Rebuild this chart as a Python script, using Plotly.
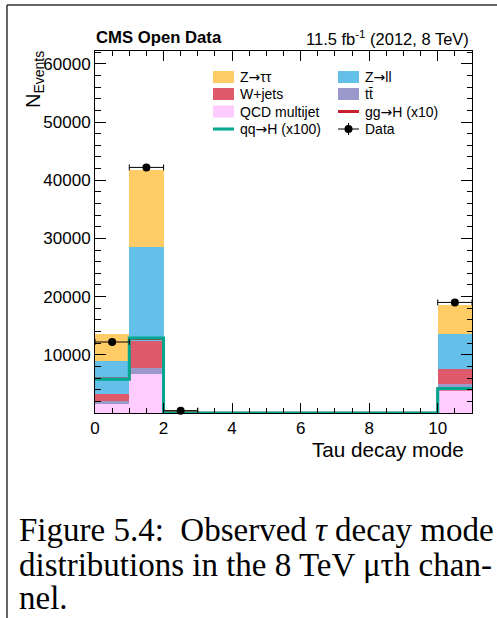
import math
import plotly.graph_objects as go

# Tau decay mode bins (edges 0..11, one bin per decay mode value)
bin_edges = list(range(0, 12))
bin_centers = [e + 0.5 for e in bin_edges[:-1]]

# Expected yields per bin (stacked backgrounds)
qcd_multijet = [1700, 6700, 50, 0, 0, 0, 0, 0, 0, 0, 4300]
ttbar = [300, 1000, 20, 0, 0, 0, 0, 0, 0, 0, 600]
w_jets = [1200, 4600, 60, 0, 0, 0, 0, 0, 0, 0, 2600]
z_ll = [5700, 16200, 100, 0, 0, 0, 0, 0, 0, 0, 6000]
z_tautau = [4600, 13300, 150, 0, 0, 0, 0, 0, 0, 0, 5000]

# Signal shapes (scaled)
ggH_x10 = [5900, 12750, 100, 0, 0, 0, 0, 0, 0, 0, 4100]
qqH_x100 = [5800, 12900, 0, 0, 0, 0, 0, 0, 0, 0, 4200]

# Observed events
data_counts = [12200, 42200, 400, 0, 0, 0, 0, 0, 0, 0, 19000]

# Axis settings
x_range = [0, 11]
y_range = [0, 62200]
y_tickvals = [10000, 20000, 30000, 40000, 50000, 60000]
x_tickvals = [0, 2, 4, 6, 8, 10]

colors = {
    "ztt": "#FFCC66",
    "zll": "#64C0E8",
    "wj": "#DE5A6A",
    "tt": "#9B98CC",
    "qcd": "#FFCCFF",
    "ggh": "#C8202E",
    "qqh": "#00A88F",
}

# Page geometry (pixels)
W, H = 497, 618
L, R, T, B = 95, 472, 51, 413
PW, PH = R - L, B - T


def px(xp):
    return (xp - L) / PW


def py(yp):
    return (B - yp) / PH


fig = go.Figure()

stack = [
    ("QCD multijet", qcd_multijet, colors["qcd"]),
    ("tt", ttbar, colors["tt"]),
    ("W+jets", w_jets, colors["wj"]),
    ("Z->ll", z_ll, colors["zll"]),
    ("Z->tautau", z_tautau, colors["ztt"]),
]
for name, vals, col in stack:
    fig.add_trace(go.Bar(
        x=bin_centers, y=vals, width=1.0, name=name,
        marker=dict(color=col, line=dict(width=0)),
        showlegend=False, hoverinfo="skip",
    ))


def step_xy(vals):
    return bin_edges, list(vals) + [vals[-1]]


sx, sy = step_xy(ggH_x10)
fig.add_trace(go.Scatter(x=sx, y=sy, mode="lines", line=dict(color=colors["ggh"], width=2.5, shape="hv"),
                         showlegend=False, hoverinfo="skip"))
sx, sy = step_xy(qqH_x100)
fig.add_trace(go.Scatter(x=sx, y=sy, mode="lines", line=dict(color=colors["qqh"], width=3, shape="hv"),
                         showlegend=False, hoverinfo="skip"))

dx = [c for c, n in zip(bin_centers, data_counts) if n > 0]
dy = [n for n in data_counts if n > 0]
fig.add_trace(go.Scatter(
    x=dx, y=dy, mode="markers",
    marker=dict(color="black", size=8),
    error_x=dict(type="constant", value=0.5, color="black", thickness=1, width=3),
    error_y=dict(type="data", array=[math.sqrt(v) for v in dy], color="black", thickness=1, width=0),
    showlegend=False, hoverinfo="skip", cliponaxis=False,
))

tick_font = dict(family="Liberation Sans, Arial, sans-serif", size=17, color="black")

fig.update_layout(
    width=W, height=H,
    margin=dict(l=L, r=W - R, t=T, b=H - B, pad=0),
    paper_bgcolor="white", plot_bgcolor="white",
    barmode="stack", bargap=0,
    showlegend=False,
    font=tick_font,
)
fig.update_xaxes(
    range=x_range, tickvals=x_tickvals, ticktext=[str(v) for v in x_tickvals],
    ticks="inside", ticklen=10, tickwidth=1, tickcolor="black",
    minor=dict(ticks="inside", dtick=0.5, tick0=0, ticklen=5, tickwidth=1, tickcolor="black"),
    showline=True, linecolor="black", linewidth=1, mirror="allticks",
    showgrid=False, zeroline=False, tickfont=tick_font,
)
fig.update_yaxes(
    range=y_range, tickvals=y_tickvals, ticktext=[str(v) for v in y_tickvals],
    ticks="inside", ticklen=11, tickwidth=1, tickcolor="black",
    minor=dict(ticks="inside", dtick=2000, tick0=0, ticklen=5.5, tickwidth=1, tickcolor="black"),
    showline=True, linecolor="black", linewidth=1, mirror="allticks",
    showgrid=False, zeroline=False, tickfont=tick_font,
)

ann = []
sans = "Liberation Sans, Arial, sans-serif"
serif = "Liberation Serif, Times New Roman, serif"
ARROW = "<span style='font-family:DejaVu Sans'>→</span>"

ann.append(dict(text="<b>CMS Open Data</b>", x=px(94), y=py(38), xanchor="left", yanchor="middle",
                font=dict(family=sans, size=16.7, color="black")))
ann.append(dict(text="11.5 fb<sup>-1</sup> (2012, 8 TeV)", x=px(471), y=py(38), xanchor="right", yanchor="middle",
                font=dict(family=sans, size=16.5, color="black")))
ann.append(dict(text="N<sub>Events</sub>", x=px(34), y=py(79), xanchor="center", yanchor="middle",
                textangle=-90, font=dict(family=sans, size=20, color="black")))
ann.append(dict(text="Tau decay mode", x=px(466), y=py(450), xanchor="right", yanchor="middle",
                font=dict(family=sans, size=20.7, color="black")))

# Legend, two columns
col_x = [213, 338]
row_y = [77, 94, 111.5, 129]
leg_w = 21
leg_items = [
    (0, 0, "box", colors["ztt"], "Z" + ARROW + "ττ"),
    (1, 0, "box", colors["zll"], "Z" + ARROW + "ll"),
    (0, 1, "box", colors["wj"], "W+jets"),
    (1, 1, "box", colors["tt"], "tt\u0304"),
    (0, 2, "box", colors["qcd"], "QCD multijet"),
    (1, 2, "line", colors["ggh"], "gg" + ARROW + "H (x10)"),
    (0, 3, "line", colors["qqh"], "qq" + ARROW + "H (x100)"),
    (1, 3, "data", "black", "Data"),
]
shapes = []
for c, r, kind, col, label in leg_items:
    x0 = col_x[c]
    yc = row_y[r]
    if kind == "box":
        shapes.append(dict(type="rect", xref="paper", yref="paper", x0=px(x0), x1=px(x0 + leg_w),
                           y0=py(yc + 6), y1=py(yc - 6), fillcolor=col, line=dict(width=0)))
    elif kind == "line":
        shapes.append(dict(type="line", xref="paper", yref="paper", x0=px(x0), x1=px(x0 + leg_w),
                           y0=py(yc), y1=py(yc), line=dict(color=col, width=3)))
    else:
        shapes.append(dict(type="line", xref="paper", yref="paper", x0=px(x0), x1=px(x0 + leg_w),
                           y0=py(yc), y1=py(yc), line=dict(color="black", width=1)))
        shapes.append(dict(type="line", xref="paper", yref="paper", x0=px(x0 + leg_w / 2), x1=px(x0 + leg_w / 2),
                           y0=py(yc - 6), y1=py(yc + 6), line=dict(color="black", width=1)))
        shapes.append(dict(type="circle", xref="paper", yref="paper",
                           x0=px(x0 + leg_w / 2 - 4), x1=px(x0 + leg_w / 2 + 4),
                           y0=py(yc + 4), y1=py(yc - 4), fillcolor="black", line=dict(width=0)))
    ann.append(dict(text=label, x=px(x0 + leg_w + 4), y=py(yc), xanchor="left", yanchor="middle",
                    font=dict(family=sans, size=14, color="black")))

# Page frame (left and top rules)
shapes.append(dict(type="line", xref="paper", yref="paper", x0=px(7), x1=px(7), y0=py(5), y1=py(620),
                   line=dict(color="#333333", width=1.5)))
shapes.append(dict(type="line", xref="paper", yref="paper", x0=px(7), x1=px(500), y0=py(5), y1=py(5),
                   line=dict(color="#333333", width=1.5)))

# Caption
caption_lines = [
    "Figure 5.4:  Observed <i>τ</i> decay mode",
    "distributions in the 8 TeV μτh chan-",
    "nel.",
]
cap_y = [530, 565, 598]
for line, yc in zip(caption_lines, cap_y):
    ann.append(dict(text=line, x=px(17), y=py(yc), xanchor="left", yanchor="middle",
                    font=dict(family=serif, size=33, color="black")))

for a in ann:
    a.update(xref="paper", yref="paper", showarrow=False)

fig.update_layout(annotations=ann, shapes=shapes)
fig.write_html("out.html")
